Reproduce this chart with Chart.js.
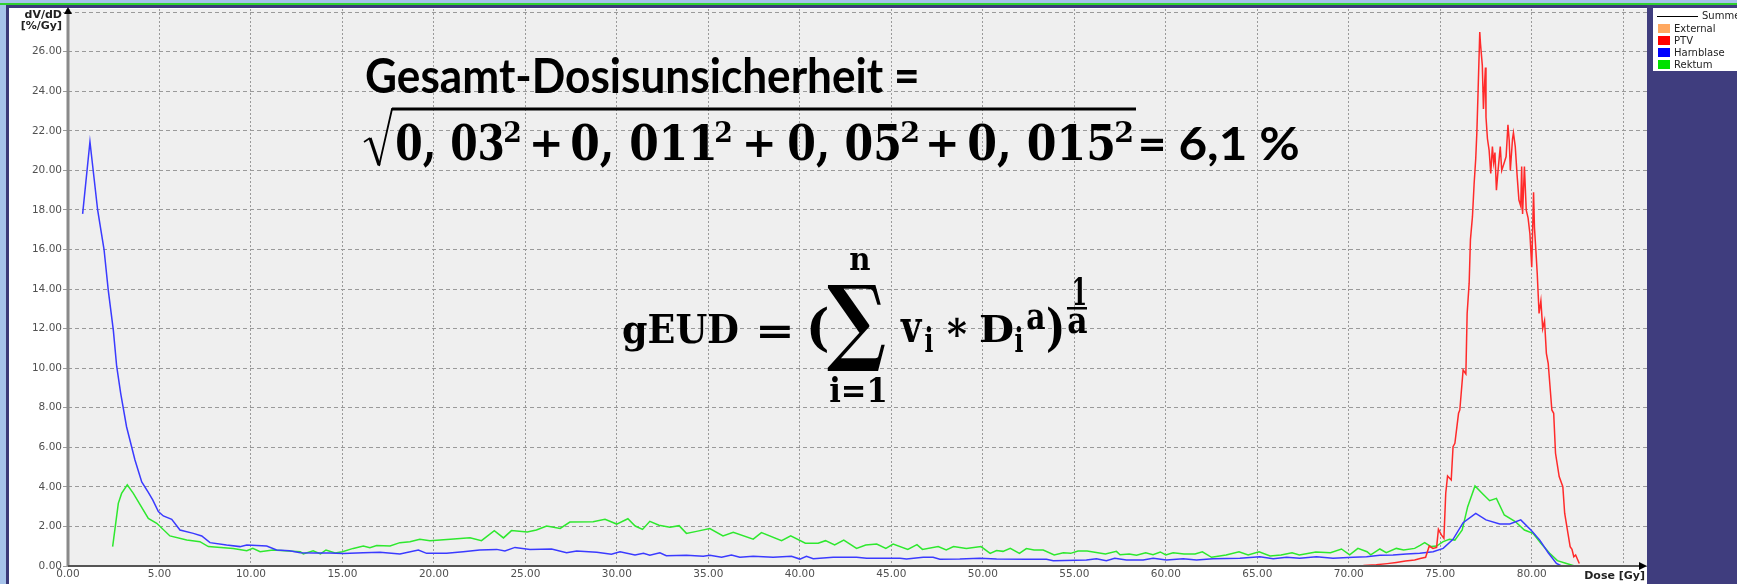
<!DOCTYPE html>
<html>
<head>
<meta charset="utf-8">
<script src="https://cdn.jsdelivr.net/npm/chart.js@4/dist/chart.umd.min.js"></script>
<style>
  html, body { margin: 0; padding: 0; background: #a6c3ea; overflow: hidden; }
  canvas { display: block; }
</style>
</head>
<body>
<canvas id="dvh" width="1737" height="584"></canvas>
<script>
// Differential dose-volume histogram: dose in Gy, dV/dD in %/Gy
const ptvDose = [70.1, 70.8, 71.5, 72.1, 72.6, 73.1, 73.6, 73.9, 74.2, 74.4, 74.6, 74.8, 74.9, 75.06, 75.2, 75.3, 75.4, 75.6, 75.7, 75.8, 76.0, 76.07, 76.25, 76.4, 76.47, 76.58, 76.65, 76.76, 76.85, 76.94, 77.0, 77.07, 77.16, 77.2, 77.3, 77.36, 77.4, 77.47, 77.5, 77.58, 77.67, 77.76, 77.85, 77.92, 77.99, 78.07, 78.17, 78.28, 78.36, 78.5, 78.6, 78.7, 78.77, 78.83, 78.95, 79.0, 79.1, 79.2, 79.3, 79.4, 79.45, 79.5, 79.6, 79.7, 79.8, 79.9, 80.0, 80.1, 80.15, 80.25, 80.3, 80.4, 80.5, 80.6, 80.7, 80.8, 80.9, 81.1, 81.2, 81.3, 81.5, 81.7, 81.8, 81.98, 82.1, 82.2, 82.3, 82.4, 82.6];
const ptvValue = [0.0, 0.02, 0.06, 0.12, 0.18, 0.25, 0.3, 0.38, 0.44, 1.01, 0.89, 0.94, 1.85, 1.57, 1.4, 3.68, 4.55, 4.35, 6.03, 6.2, 7.72, 7.89, 9.91, 9.71, 12.77, 14.3, 16.5, 17.66, 19.3, 20.6, 21.9, 24.06, 27.0, 26.4, 25.3, 23.1, 23.97, 25.2, 22.7, 21.6, 21.03, 19.85, 21.2, 20.4, 20.9, 19.0, 20.1, 21.2, 20.0, 20.4, 20.7, 22.3, 21.5, 20.0, 21.6, 21.9, 21.2, 19.76, 18.5, 18.2, 20.2, 17.8, 20.2, 17.99, 17.6, 16.8, 15.1, 18.9, 17.1, 15.6, 14.8, 12.77, 13.4, 12.0, 12.4, 10.75, 10.25, 7.89, 7.72, 5.7, 4.52, 4.01, 2.67, 1.65, 0.98, 0.84, 0.47, 0.56, 0.13];

const blaseDose = [0.8, 1.2, 1.62, 1.97, 2.2, 2.48, 2.66, 2.88, 3.2, 3.66, 4.03, 4.39, 4.63, 4.94, 5.21, 5.67, 6.12, 6.85, 7.31, 7.76, 8.67, 9.4, 9.77, 10.86, 11.4, 12.1, 12.7, 13.5, 14.3, 15.04, 16.14, 17.05, 18.14, 19.15, 19.6, 20.69, 21.6, 22.5, 23.43, 23.88, 24.43, 25.25, 26.43, 27.25, 27.8, 28.9, 29.7, 30.17, 30.99, 31.45, 31.8, 32.35, 32.7, 33.8, 34.72, 35.08, 35.72, 36.26, 36.72, 37.45, 38.54, 39.54, 40.0, 40.36, 40.73, 41.82, 43.1, 43.65, 45.47, 45.83, 46.74, 47.28, 47.65, 48.74, 49.83, 50.75, 52.39, 53.48, 53.85, 55.66, 56.21, 56.75, 57.21, 57.85, 58.76, 59.31, 60.04, 60.95, 61.68, 62.58, 64.05, 65.14, 65.87, 66.6, 67.32, 68.23, 69.14, 70.24, 70.97, 71.7, 72.42, 73.15, 73.88, 74.61, 75.16, 75.7, 76.25, 76.94, 77.5, 78.25, 78.8, 79.4, 79.98, 80.44, 80.9, 81.35, 81.63];
const blaseValue = [17.8, 21.45, 18.0, 16.0, 13.95, 11.9, 10.1, 8.73, 7.04, 5.36, 4.25, 3.72, 3.34, 2.75, 2.53, 2.36, 1.82, 1.65, 1.52, 1.18, 1.06, 0.98, 1.06, 1.01, 0.81, 0.77, 0.67, 0.66, 0.66, 0.63, 0.67, 0.69, 0.61, 0.81, 0.64, 0.64, 0.72, 0.81, 0.84, 0.76, 0.94, 0.84, 0.86, 0.67, 0.76, 0.69, 0.59, 0.72, 0.56, 0.64, 0.54, 0.67, 0.52, 0.54, 0.49, 0.54, 0.44, 0.56, 0.44, 0.49, 0.44, 0.49, 0.35, 0.49, 0.37, 0.44, 0.44, 0.39, 0.39, 0.35, 0.44, 0.44, 0.34, 0.35, 0.39, 0.35, 0.34, 0.34, 0.27, 0.3, 0.37, 0.27, 0.39, 0.3, 0.3, 0.39, 0.3, 0.37, 0.3, 0.37, 0.39, 0.47, 0.37, 0.44, 0.39, 0.47, 0.39, 0.44, 0.47, 0.54, 0.56, 0.61, 0.64, 0.72, 0.89, 1.35, 2.19, 2.66, 2.33, 2.12, 2.12, 2.33, 1.79, 1.31, 0.67, 0.13, 0.0];

const rektumDose = [2.44, 2.75, 2.93, 3.24, 3.57, 4.39, 4.85, 5.57, 6.49, 7.21, 7.67, 9.03, 9.77, 10.1, 10.5, 11.2, 12.7, 12.86, 13.4, 13.8, 14.1, 14.6, 15.0, 15.59, 16.14, 16.5, 16.87, 17.6, 18.14, 18.69, 19.23, 19.78, 20.9, 21.97, 22.6, 23.3, 23.8, 24.24, 25.1, 25.6, 26.16, 26.9, 27.43, 28.7, 29.35, 29.99, 30.6, 31.0, 31.4, 31.8, 32.3, 32.9, 33.4, 33.8, 34.35, 35.08, 35.8, 36.36, 37.45, 37.9, 39.0, 39.5, 40.3, 41.0, 41.4, 41.9, 42.4, 43.1, 43.6, 44.2, 44.7, 45.1, 45.9, 46.4, 46.7, 47.56, 48.0, 48.4, 49.1, 49.9, 50.4, 50.75, 51.1, 51.5, 52.0, 52.38, 52.8, 53.3, 53.9, 54.4, 54.8, 55.2, 55.7, 56.7, 57.3, 57.5, 58.0, 58.4, 58.9, 59.3, 59.7, 60.0, 60.4, 61.0, 61.6, 62.0, 62.5, 63.3, 64.0, 64.5, 65.1, 65.7, 66.3, 66.9, 67.3, 68.2, 69.0, 69.6, 70.05, 70.5, 71.0, 71.2, 71.7, 72.05, 72.6, 73.0, 73.6, 73.9, 74.15, 74.5, 74.8, 75.16, 75.5, 75.8, 76.2, 76.5, 76.9, 77.3, 77.7, 78.07, 78.5, 79.1, 79.6, 80.07, 80.5, 80.98, 81.4, 81.9, 82.3];
const rektumValue = [0.98, 3.17, 3.67, 4.1, 3.67, 2.41, 2.16, 1.52, 1.31, 1.23, 0.98, 0.89, 0.77, 0.89, 0.72, 0.81, 0.72, 0.61, 0.77, 0.61, 0.81, 0.66, 0.72, 0.89, 1.01, 0.93, 1.04, 1.01, 1.18, 1.23, 1.35, 1.28, 1.35, 1.43, 1.28, 1.79, 1.42, 1.79, 1.72, 1.82, 2.02, 1.9, 2.22, 2.24, 2.36, 2.12, 2.39, 2.02, 1.85, 2.26, 2.06, 1.96, 2.04, 1.65, 1.75, 1.89, 1.52, 1.7, 1.36, 1.69, 1.28, 1.53, 1.15, 1.15, 1.28, 1.06, 1.31, 0.89, 1.06, 1.11, 0.89, 1.11, 0.84, 1.08, 0.84, 0.98, 0.81, 0.98, 0.88, 0.98, 0.64, 0.78, 0.74, 0.89, 0.64, 0.88, 0.81, 0.81, 0.56, 0.67, 0.64, 0.76, 0.76, 0.61, 0.74, 0.57, 0.61, 0.54, 0.67, 0.57, 0.71, 0.56, 0.67, 0.61, 0.61, 0.72, 0.44, 0.56, 0.72, 0.56, 0.72, 0.51, 0.56, 0.67, 0.56, 0.71, 0.67, 0.86, 0.56, 0.89, 0.72, 0.56, 0.86, 0.67, 0.89, 0.81, 0.89, 1.04, 1.18, 0.98, 1.01, 1.23, 1.35, 1.31, 1.82, 3.0, 4.05, 3.67, 3.3, 3.42, 2.58, 2.25, 1.82, 1.65, 1.15, 0.64, 0.27, 0.13, 0.02];

// Axis settings
const xMax = 86.3;
const xStep = 5;
const xLastLabel = 80;
const yMax = 28.16;
const yStep = 2;
const yLastLabel = 26;

// Legend entries (name, colour, kind)
const legendNames = ['Summe', 'External', 'PTV', 'Harnblase', 'Rektum'];
const legendColors = ['#000000', '#ffa860', '#ff0000', '#0000ff', '#00e000'];
const legendKinds = ['line', 'box', 'box', 'box', 'box'];

const toPoints = (xs, ys) => xs.map((x, i) => ({ x: x, y: ys[i] }));

// Fit text horizontally between left and left+width, on a given baseline
function fitText(ctx, text, font, left, baseline, width) {
  ctx.font = font;
  ctx.textAlign = 'left';
  ctx.textBaseline = 'alphabetic';
  const m = ctx.measureText(text);
  const w = m.actualBoundingBoxLeft + m.actualBoundingBoxRight;
  ctx.save();
  ctx.translate(left, baseline);
  ctx.scale(width / w, 1);
  ctx.fillText(text, m.actualBoundingBoxLeft, 0);
  ctx.restore();
}
// Fit the ink of a text into a box
function fitBox(ctx, text, font, x0, y0, x1, y1) {
  ctx.font = font;
  ctx.textAlign = 'left';
  ctx.textBaseline = 'alphabetic';
  const m = ctx.measureText(text);
  const w = m.actualBoundingBoxLeft + m.actualBoundingBoxRight;
  const h = m.actualBoundingBoxAscent + m.actualBoundingBoxDescent;
  ctx.save();
  ctx.translate(x0, y0);
  ctx.scale((x1 - x0) / w, (y1 - y0) / h);
  ctx.fillText(text, m.actualBoundingBoxLeft, m.actualBoundingBoxAscent);
  ctx.restore();
}

// Window frame, plot background and side panel
const framePlugin = {
  id: 'frame',
  beforeDraw(chart) {
    const { ctx, chartArea: a, width, height } = chart;
    ctx.save();
    ctx.fillStyle = '#a6c3ea';
    ctx.fillRect(0, 0, width, height);
    ctx.fillStyle = '#30d030';
    ctx.fillRect(0, 3, width, 2);
    ctx.fillStyle = '#3b3978';
    ctx.fillRect(6, 5, width - 6, height - 5);
    ctx.fillStyle = '#ffffff';
    ctx.fillRect(9, 8, a.right - 9, height - 8);
    ctx.fillStyle = '#efefef';
    ctx.fillRect(a.left, a.top, a.right - a.left, a.bottom - a.top);
    ctx.fillStyle = '#3f3d7e';
    ctx.fillRect(a.right, 5, width - a.right, height - 5);
    ctx.restore();
  }
};

// Axis lines with arrow heads, axis titles, legend and formulas
const overlayPlugin = {
  id: 'overlay',
  afterDatasetsDraw(chart) {
    const { ctx, chartArea: a } = chart;
    ctx.save();
    // y axis
    ctx.fillStyle = '#8a8a8a';
    ctx.fillRect(a.left - 1.5, a.top, 3, a.bottom - a.top);
    ctx.fillStyle = '#000';
    ctx.beginPath();
    ctx.moveTo(a.left, a.top - 2);
    ctx.lineTo(a.left - 4, a.top + 5);
    ctx.lineTo(a.left + 4, a.top + 5);
    ctx.closePath();
    ctx.fill();
    // x axis
    ctx.fillStyle = '#555';
    ctx.fillRect(a.left, a.bottom - 1, a.right - a.left - 4, 2);
    ctx.fillStyle = '#000';
    ctx.beginPath();
    ctx.moveTo(a.right, a.bottom);
    ctx.lineTo(a.right - 8, a.bottom - 4);
    ctx.lineTo(a.right - 8, a.bottom + 4);
    ctx.closePath();
    ctx.fill();

    // axis titles
    ctx.fillStyle = '#222';
    ctx.font = 'bold 11px "DejaVu Sans"';
    ctx.textAlign = 'right';
    ctx.textBaseline = 'middle';
    ctx.fillText('dV/dD', a.left - 6, 15);
    ctx.fillText('[%/Gy]', a.left - 6, 26);
    ctx.fillText('Dose [Gy]', a.right - 2, 576);

    // legend
    const lx = a.right + 6;
    ctx.fillStyle = '#ffffff';
    ctx.fillRect(lx, 8, 100, 63);
    ctx.textAlign = 'left';
    ctx.textBaseline = 'middle';
    ctx.font = '10px "DejaVu Sans"';
    legendNames.forEach((name, i) => {
      const cy = 16 + i * 12;
      if (legendKinds[i] === 'line') {
        ctx.fillStyle = legendColors[i];
        ctx.fillRect(lx + 4, cy, 41, 1);
        ctx.fillStyle = '#222';
        ctx.fillText(name, lx + 49, cy);
      } else {
        ctx.fillStyle = legendColors[i];
        ctx.fillRect(lx + 5, cy - 4, 12, 9);
        ctx.fillStyle = '#222';
        ctx.fillText(name, lx + 21, cy + 1);
      }
    });

    // formulas
    ctx.fillStyle = '#000';
    const sans = 'bold 46px Lato';
    const serif = 'bold 48px "DejaVu Serif"';
    fitBox(ctx, 'Gesamt-Dosisunsicherheit =', sans, 366, 58, 917, 93);
    // square root with overline
    ctx.strokeStyle = '#000';
    ctx.lineJoin = 'miter';
    ctx.lineWidth = 1.6;
    ctx.beginPath();
    ctx.moveTo(364, 142);
    ctx.lineTo(370, 138);
    ctx.stroke();
    ctx.lineWidth = 3.2;
    ctx.beginPath();
    ctx.moveTo(370, 138);
    ctx.lineTo(379, 165);
    ctx.stroke();
    ctx.lineWidth = 1.8;
    ctx.beginPath();
    ctx.moveTo(379, 166);
    ctx.lineTo(392, 109);
    ctx.lineTo(1136, 109);
    ctx.stroke();
    ctx.fillRect(392, 107.5, 744, 3);

    fitText(ctx, '0, 03', serif, 397, 160, 106);
    fitBox(ctx, '2', serif, 505, 120, 520, 142);
    fitBox(ctx, '+', serif, 533, 131, 560, 157);
    fitText(ctx, '0, 011', serif, 572, 160, 142);
    fitBox(ctx, '2', serif, 716, 120, 731, 142);
    fitBox(ctx, '+', serif, 746, 131, 773, 157);
    fitText(ctx, '0, 05', serif, 789, 160, 110);
    fitBox(ctx, '2', serif, 902, 120, 918, 142);
    fitBox(ctx, '+', serif, 929, 131, 956, 157);
    fitText(ctx, '0, 015', serif, 969, 160, 144);
    fitBox(ctx, '2', serif, 1116, 120, 1132, 142);
    fitText(ctx, '= 6,1 %', sans, 1141, 160, 157);

    // gEUD
    const f2 = 'bold 38px "DejaVu Serif"';
    fitBox(ctx, 'gEUD', f2, 623, 315, 738, 352);
    fitBox(ctx, '=', f2, 760, 325, 790, 338);
    fitBox(ctx, '(', f2, 810, 307, 827, 353);
    fitBox(ctx, '\u2211', f2, 827, 283, 885, 373);
    fitBox(ctx, 'n', f2, 850, 253, 870, 270);
    fitBox(ctx, 'i=1', f2, 830, 377, 885, 402);
    fitBox(ctx, 'v', f2, 900, 320, 923, 342);
    fitBox(ctx, 'i', f2, 925, 327, 933, 352);
    fitBox(ctx, '*', f2, 947, 318, 967, 337);
    fitBox(ctx, 'D', f2, 980, 315, 1013, 342);
    fitBox(ctx, 'i', f2, 1015, 327, 1023, 352);
    fitBox(ctx, 'a', f2, 1027, 310, 1045, 330);
    fitBox(ctx, ')', f2, 1047, 307, 1062, 353);
    fitBox(ctx, '1', f2, 1074, 277, 1085, 305);
    ctx.fillRect(1067, 307, 20, 2.5);
    fitBox(ctx, 'a', f2, 1068, 313, 1087, 334);
    ctx.restore();
  }
};

const tickFont = { family: '"DejaVu Sans"', size: 10.5 };

new Chart(document.getElementById('dvh'), {
  type: 'line',
  data: {
    datasets: [
      { label: 'PTV', data: toPoints(ptvDose, ptvValue), borderColor: '#ff2a2a' },
      { label: 'Harnblase', data: toPoints(blaseDose, blaseValue), borderColor: '#3a3aff' },
      { label: 'Rektum', data: toPoints(rektumDose, rektumValue), borderColor: '#2ee82e' }
    ]
  },
  options: {
    responsive: false,
    animation: false,
    parsing: false,
    layout: { padding: { top: 9, right: 90, left: 0, bottom: 0 } },
    elements: {
      point: { radius: 0 },
      line: { borderWidth: 1.5, tension: 0, fill: false }
    },
    plugins: { legend: { display: false }, tooltip: { enabled: false } },
    scales: {
      x: {
        type: 'linear',
        min: 0,
        max: xMax,
        afterFit(scale) { scale.height = 18; },
        ticks: {
          stepSize: xStep,
          autoSkip: false,
          maxRotation: 0,
          includeBounds: false,
          padding: 2,
          color: '#505050',
          font: tickFont,
          callback: (v) => (v <= xLastLabel ? Number(v).toFixed(2) : '')
        },
        grid: { color: '#9a9a9a', lineWidth: 1, drawTicks: false },
        border: { display: false, dash: [2, 2] }
      },
      y: {
        type: 'linear',
        min: 0,
        max: yMax,
        afterFit(scale) { scale.width = 68; },
        ticks: {
          stepSize: yStep,
          includeBounds: false,
          padding: 1,
          color: '#505050',
          font: tickFont,
          callback: (v) => (v <= yLastLabel ? Number(v).toFixed(2) : '')
        },
        grid: { color: '#9a9a9a', lineWidth: 1, tickLength: 5 },
        border: { display: false, dash: [4, 3] }
      }
    }
  },
  plugins: [framePlugin, overlayPlugin]
});
</script>
</body>
</html>
